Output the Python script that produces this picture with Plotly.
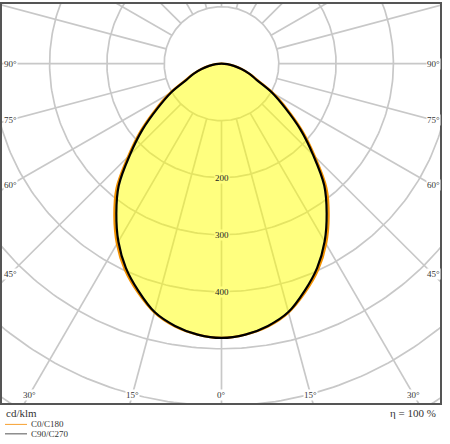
import numpy as np
import plotly.graph_objects as go

# intensidad (cd/klm) cada 5 grados desde el nadir
angles = [0, 5, 10, 15, 20, 25, 30, 35, 40, 45, 50, 55, 60, 65, 70, 75, 80, 85, 90]
c0_c180 = [481, 477, 468, 452, 427, 399, 365, 326, 285, 231, 185, 141, 105, 71, 53, 37, 22, 10, 0]
c90_c270 = [481, 477, 467, 451, 424, 395, 360, 320, 279, 226, 180, 136, 102, 68, 52, 36, 22, 10, 0]

ring_values = [100, 200, 300, 400, 500, 600, 700]
ring_labels = [200, 300, 400]
spoke_step = 15
side_labels = [90, 75, 60, 45]
bottom_labels = [30, 15, 0, 15, 30]
bottom_signs = [-1, -1, 0, 1, 1]

grid_col = "#c8c8c8"
font = "Liberation Serif"


def to_xy(theta_deg, r):
    t = np.radians(np.asarray(theta_deg, dtype=float))
    r = np.asarray(r, dtype=float)
    return r * np.sin(t), -r * np.cos(t)


def full_curve(vals):
    th = [-a for a in angles[::-1]] + angles[1:]
    rr = vals[::-1] + vals[1:]
    return to_xy(th, rr)


fig = go.Figure()

# anillos
phi = np.linspace(0, 360, 361)
for rv in ring_values:
    x, y = to_xy(phi, np.full_like(phi, rv))
    fig.add_trace(go.Scatter(x=x, y=y, mode="lines", line=dict(color=grid_col, width=1.7),
                             hoverinfo="skip", showlegend=False))

# radios desde 100 hacia afuera
for a in range(0, 360, spoke_step):
    x, y = to_xy([a, a], [ring_values[0], 900])
    fig.add_trace(go.Scatter(x=x, y=y, mode="lines", line=dict(color=grid_col, width=1.7),
                             hoverinfo="skip", showlegend=False))

# relleno y curvas
x0, y0 = full_curve(c0_c180)
x90, y90 = full_curve(c90_c270)
fig.add_trace(go.Scatter(x=x0, y=y0, mode="lines", fill="toself",
                         fillcolor="rgba(255,255,0,0.5)", line=dict(width=0, shape="spline"),
                         hoverinfo="skip", showlegend=False))
fig.add_trace(go.Scatter(x=x0, y=y0, mode="lines", name="C0/C180",
                         line=dict(color="#f39200", width=2.2, shape="spline"), showlegend=False))
fig.add_trace(go.Scatter(x=x90, y=y90, mode="lines", name="C90/C270",
                         line=dict(color="#000000", width=2.2, shape="spline"), showlegend=False))

# escala: 100 cd/klm = 57.3 px
s = 100 / 57.3

# etiquetas de valores
for v in ring_labels:
    fig.add_annotation(x=0, y=-v, text=str(v), showarrow=False, bgcolor="#ffff80",
                       font=dict(family=font, size=9, color="#222"), borderpad=0)

# etiquetas de angulos laterales
xl = -211.5 * s
for a in side_labels:
    yy = xl / np.tan(np.radians(a)) if a != 90 else 0
    for sign in (-1, 1):
        fig.add_annotation(x=sign * -xl, y=-abs(yy), text=f"{a}°", showarrow=False,
                           bgcolor="white", font=dict(family=font, size=9, color="#333"),
                           borderpad=0)

# etiquetas inferiores
yb = -333 * s
for a, sg in zip(bottom_labels, bottom_signs):
    fig.add_annotation(x=sg * abs(yb) * np.tan(np.radians(a)), y=yb, text=f"{a}°",
                       showarrow=False, bgcolor="white",
                       font=dict(family=font, size=9, color="#333"), borderpad=0)

# textos inferiores
fig.add_annotation(xref="paper", yref="paper", x=0.004, y=-0.006, xanchor="left", yanchor="top",
                   text="cd/klm", showarrow=False, font=dict(family=font, size=11, color="#333"))
fig.add_annotation(xref="paper", yref="paper", x=0.995, y=-0.006, xanchor="right", yanchor="top",
                   text="η = 100 %", showarrow=False, font=dict(family=font, size=11, color="#333"))

# leyenda manual
for i, (name, col) in enumerate([("C0/C180", "#f7a030"), ("C90/C270", "#555555")]):
    yy = 444 - 424.5 - i * 9.5
    fig.add_shape(type="line", xref="paper", yref="paper",
                  x0=3 / 438, x1=25 / 438, y0=(yy - 41) / 401, y1=(yy - 41) / 401,
                  line=dict(color=col, width=1))
    fig.add_annotation(xref="paper", yref="paper", x=27 / 438, y=(yy - 41) / 401,
                       xanchor="left", yanchor="middle", text=name, showarrow=False,
                       font=dict(family=font, size=9, color="#333"))

fig.update_xaxes(range=[-219.5 * s, 218.5 * s], showgrid=False, zeroline=False,
                 showticklabels=False, ticks="", showline=True, mirror=True,
                 linecolor="#555", linewidth=2)
fig.update_yaxes(range=[-341 * s, 60 * s], showgrid=False, zeroline=False,
                 showticklabels=False, ticks="", showline=True, mirror=True,
                 linecolor="#555", linewidth=2)

fig.update_layout(width=450, height=444, margin=dict(l=2, r=10, t=2, b=41),
                  plot_bgcolor="white", paper_bgcolor="white", showlegend=False)

fig.write_html("out.html", config={"displayModeBar": False},
               post_script="document.body.style.margin='0';")
